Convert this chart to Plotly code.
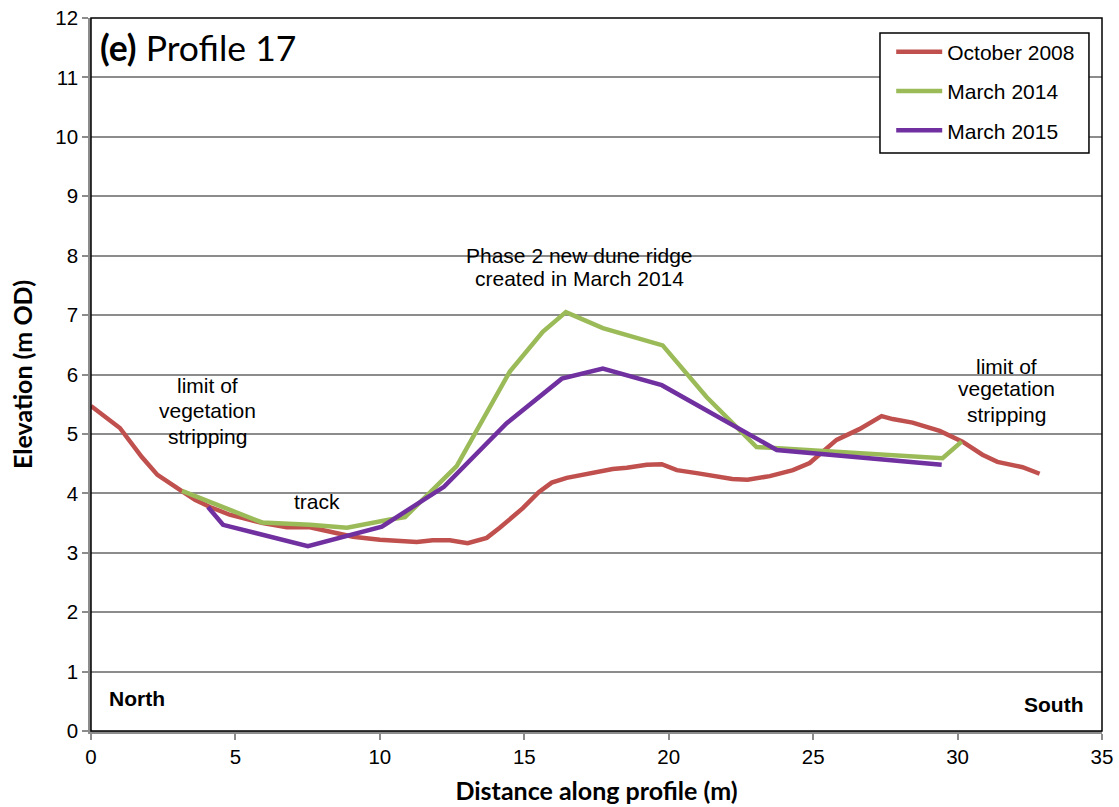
import plotly.graph_objects as go

# October 2008
oct08_x = [0, 1.0, 1.76, 2.3, 3.08, 3.6, 4.12, 4.8, 5.95, 6.78, 7.58, 8.37, 9.07, 10.0,
           11.28, 11.83, 12.42, 13.04, 13.7, 14.15, 14.95, 15.5, 15.95, 16.47, 17.37, 18.06,
           18.55, 19.24, 19.76, 20.28, 20.97, 21.52, 22.2, 22.73, 23.5, 24.3, 24.88, 25.81,
           26.6, 27.37, 27.75, 28.44, 29.38, 30.17, 30.86, 31.38, 32.25, 32.84]
oct08_y = [5.47, 5.10, 4.61, 4.31, 4.06, 3.89, 3.77, 3.64, 3.50, 3.43, 3.43, 3.35, 3.27, 3.22,
           3.18, 3.21, 3.21, 3.16, 3.25, 3.42, 3.75, 4.02, 4.18, 4.26, 4.34, 4.41,
           4.43, 4.48, 4.49, 4.39, 4.34, 4.29, 4.24, 4.23, 4.29, 4.39, 4.51, 4.90,
           5.08, 5.30, 5.25, 5.19, 5.05, 4.87, 4.65, 4.53, 4.44, 4.33]

# March 2014
mar14_x = [3.15, 4.57, 5.92, 7.58, 8.86, 10.35, 10.87, 12.66, 14.5, 15.64, 16.44, 17.72,
           18.55, 19.79, 21.31, 23.04, 29.48, 30.14]
mar14_y = [4.04, 3.77, 3.51, 3.47, 3.42, 3.56, 3.60, 4.46, 6.05, 6.72, 7.05, 6.78,
           6.67, 6.49, 5.62, 4.78, 4.59, 4.87]

# March 2015
mar15_x = [4.05, 4.57, 7.51, 10.07, 12.22, 14.39, 16.3, 17.72, 19.76, 23.74, 29.45]
mar15_y = [3.77, 3.47, 3.11, 3.44, 4.11, 5.18, 5.93, 6.10, 5.82, 4.73, 4.48]

series = [
    ("October 2008", oct08_x, oct08_y, "#C0504D"),
    ("March 2014", mar14_x, mar14_y, "#9BBB59"),
    ("March 2015", mar15_x, mar15_y, "#7030A0"),
]

x_ticks = [0, 5, 10, 15, 20, 25, 30, 35]
y_ticks = list(range(0, 13))

# annotation text lines (one entry per line)
left_note = ["limit of", "vegetation", "stripping"]
right_note = ["limit of", "vegetation", "stripping"]
ridge_note = ["Phase 2 new dune ridge", "created in March 2014"]

fig = go.Figure()
for i, (name, xs, ys, col) in enumerate(series):
    fig.add_trace(go.Scatter(x=xs, y=ys, mode="lines", name=name, legendgroup=str(i),
                             line=dict(color=col, width=4.5)))

ARIAL = "Liberation Sans, Arial, sans-serif"
CAL = "Lato, sans-serif"
txt = dict(family=ARIAL, size=21, color="black")
tick = dict(family=ARIAL, size=20.5, color="black")
bold_ar = dict(family=ARIAL, size=21, color="black")

for line, yy in zip(left_note, [5.81, 5.40, 4.96]):
    fig.add_annotation(x=4.05, y=yy, text=line, font=txt, showarrow=False)
for line, yy in zip(right_note, [6.14, 5.76, 5.33]):
    fig.add_annotation(x=31.7, y=yy, text=line, font=txt, showarrow=False)
for line, yy in zip(ridge_note, [8.01, 7.61]):
    fig.add_annotation(x=16.9, y=yy, text=line, font=txt, showarrow=False)
fig.add_annotation(x=7.82, y=3.87, text="track", font=txt, showarrow=False)
fig.add_annotation(x=0.55, y=0.54, text="<b>North</b>", font=bold_ar, xanchor="left",
                   showarrow=False)
fig.add_annotation(x=34.4, y=0.44, text="<b>South</b>", font=bold_ar, xanchor="right",
                   showarrow=False)

fig.add_annotation(xref="x", yref="y", x=0.25, y=11.51, xanchor="left", yanchor="middle",
                   showarrow=False, text="<b>(e)</b> Profile 17",
                   font=dict(family=CAL, size=35.5, color="black"))

# plot-area frame
fig.add_shape(type="rect", xref="paper", yref="paper", x0=0, y0=0, x1=1, y1=1,
              line=dict(color="black", width=1.5), layer="above")
# legend frame
fig.add_shape(type="rect", xref="paper", yref="paper", x0=0.7804, y0=0.8107, x1=0.9871,
              y1=0.979, line=dict(color="black", width=1.5), fillcolor="white",
              layer="above")

fig.update_layout(
    width=1119, height=807,
    margin=dict(l=91, r=17, t=18, b=76, autoexpand=False),
    plot_bgcolor="white", paper_bgcolor="white",
    font=txt,
    showlegend=True,
    legend=dict(x=0.7915, y=0.981, xanchor="left", yanchor="top",
                borderwidth=0, bgcolor="rgba(0,0,0,0)",
                font=dict(family=ARIAL, size=21, color="black"),
                itemwidth=46,
                traceorder="grouped", tracegroupgap=9),
    xaxis=dict(range=[0, 35], tickvals=x_ticks, showgrid=False, zeroline=False,
               showline=True, linecolor="#8C8C8C", linewidth=2.5,
               ticks="outside", tickcolor="#8C8C8C", ticklen=6, tickwidth=1.5,
               tickfont=tick, automargin=False, ticklabeloverflow="allow",
               title=dict(text="<b>Distance along profile (m)</b>",
                          font=dict(family=CAL, size=25, color="black"),
                          standoff=16)),
    yaxis=dict(range=[0, 12], tickvals=y_ticks, showgrid=True, gridcolor="#8C8C8C",
               gridwidth=1.5, zeroline=False,
               showline=True, linecolor="#8C8C8C", linewidth=2.5,
               ticks="outside", tickcolor="#8C8C8C", ticklen=6, tickwidth=1.5,
               tickfont=tick, automargin=False, ticklabeloverflow="allow",
               title=dict(text="<b>Elevation (m OD)</b>",
                          font=dict(family=CAL, size=25, color="black"),
                          standoff=16)),
)

# remove the browser's default 8px body margin so the figure sits at the page origin
fig.write_html("out.html", config={"displayModeBar": False},
               post_script="document.body.style.margin='0px';document.body.style.overflow='hidden';")
